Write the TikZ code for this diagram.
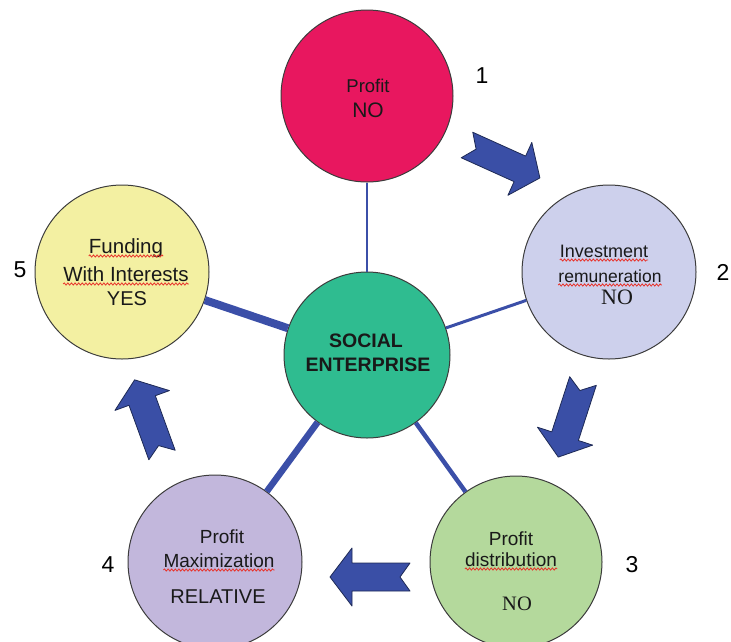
\documentclass[tikz,border=0pt]{standalone}
\usepackage{fontspec}
\setmainfont{Liberation Sans}
\newfontfamily\romanfont{Liberation Serif}
\usetikzlibrary{decorations.pathmorphing}

\definecolor{profitpink}{HTML}{E8175F}
\definecolor{investlav}{HTML}{CDD0EC}
\definecolor{fundyellow}{HTML}{F3F0A2}
\definecolor{socialgreen}{HTML}{2FBC90}
\definecolor{distgreen}{HTML}{B4D99C}
\definecolor{maxlilac}{HTML}{C2B7DC}
\definecolor{linkblue}{HTML}{3B4FA8}
\definecolor{arrowblue}{HTML}{3A4FA6}
\definecolor{arrowrim}{HTML}{1E2A55}
\definecolor{rimgray}{HTML}{3C3C3C}
\definecolor{spellred}{HTML}{E8322A}

\tikzset{
  bubble/.style={circle, draw=rimgray, line width=1pt, inner sep=0pt, minimum size=#1},
  txt/.style={anchor=base, inner sep=0pt, text=black!90, font=\fontsize{#1}{#1}\selectfont},
  rtxt/.style={anchor=base, inner sep=0pt, text=black!90, font=\romanfont\fontsize{#1}{#1}\selectfont},
  num/.style={anchor=base, inner sep=0pt, text=black, font=\fontsize{23}{23}\selectfont},
  link/.style={draw=linkblue, line width=#1},
  spell/.style={draw=spellred, line width=0.8pt, decorate,
    decoration={snake, amplitude=1.1pt, segment length=3.6pt}},
  pics/notcharrow/.style={code={
    \draw[fill=arrowblue, draw=arrowrim, line width=0.8pt, line join=round]
      (0,14) -- (58,14) -- (58,29) -- (80,0) -- (58,-29) -- (58,-14)
      -- (0,-14) -- (10,0) -- cycle;}}
}

\begin{document}
\begin{tikzpicture}[x=1pt,y=-1pt]
\useasboundingbox (0,0) rectangle (731,641);
\clip (0,0) rectangle (731,641);

% circles
\node[bubble=172pt, fill=profitpink]  (profit) at (367,96)  {};
\node[bubble=174pt, fill=investlav]   (invest) at (609,272) {};
\node[bubble=174pt, fill=fundyellow]  (fund)   at (122,272) {};
\node[bubble=166pt, fill=socialgreen] (social) at (367,355) {};
\node[bubble=172pt, fill=distgreen]   (dist)   at (516,562) {};
\node[bubble=174pt, fill=maxlilac]    (maxi)   at (215,562) {};

% spokes from the centre
\draw[link=2.2pt] (social) -- (profit);
\draw[link=3pt]   (social) -- (invest);
\draw[link=4.5pt] (social) -- (dist);
\draw[link=6.5pt] (social) -- (maxi);
\draw[link=8pt]   (social) -- (fund);

% circle texts
\node[txt=18.5] (p1) at (368,92)  {Profit};
\node[txt=21]   (p2) at (368,117) {NO};

\node[txt=18]   (i1) at (604,257) {Investment};
\node[txt=17.5] (i2) at (610,282) {remuneration};
\node[rtxt=22]  (i3) at (617,304) {NO};

\node[txt=20.5] (f1) at (126,253) {Funding};
\node[txt=20.5] (f2) at (126,281) {With Interests};
\node[txt=20]   (f3) at (127,305) {YES};

\node[txt=19.5, font=\bfseries\fontsize{19.5}{19.5}\selectfont] (s1) at (366,347) {SOCIAL};
\node[txt=19.5, font=\bfseries\fontsize{19.5}{19.5}\selectfont] (s2) at (368,371) {ENTERPRISE};

\node[txt=19]   (d1) at (511,545) {Profit};
\node[txt=19]   (d2) at (511,566) {distribution};
\node[rtxt=20.5] (d3) at (517,610) {NO};

\node[txt=19]   (m1) at (222,543) {Profit};
\node[txt=19]   (m2) at (219,567) {Maximization};
\node[txt=20]   (m3) at (218,603) {RELATIVE};

% spell-check underlines
\foreach \w in {i1,i2,f1,f2,d2,m2}
  \draw[spell] ([yshift=-3pt]\w.base west) -- ([yshift=-3pt]\w.base east);

% step numbers
\node[num] (n1) at (482,83)  {1};
\node[num] (n2) at (723,280) {2};
\node[num] (n3) at (632,572) {3};
\node[num] (n4) at (108,572) {4};
\node[num] (n5) at (20,277)  {5};

% cycle arrows
\pic[rotate=-24.3] at (467,145) {notcharrow};
\pic[rotate=-108]  at (583,381) {notcharrow};
\pic[rotate=180]   at (410,577) {notcharrow};
\pic[rotate=110]   at (162,455) {notcharrow};
\end{tikzpicture}
\end{document}
